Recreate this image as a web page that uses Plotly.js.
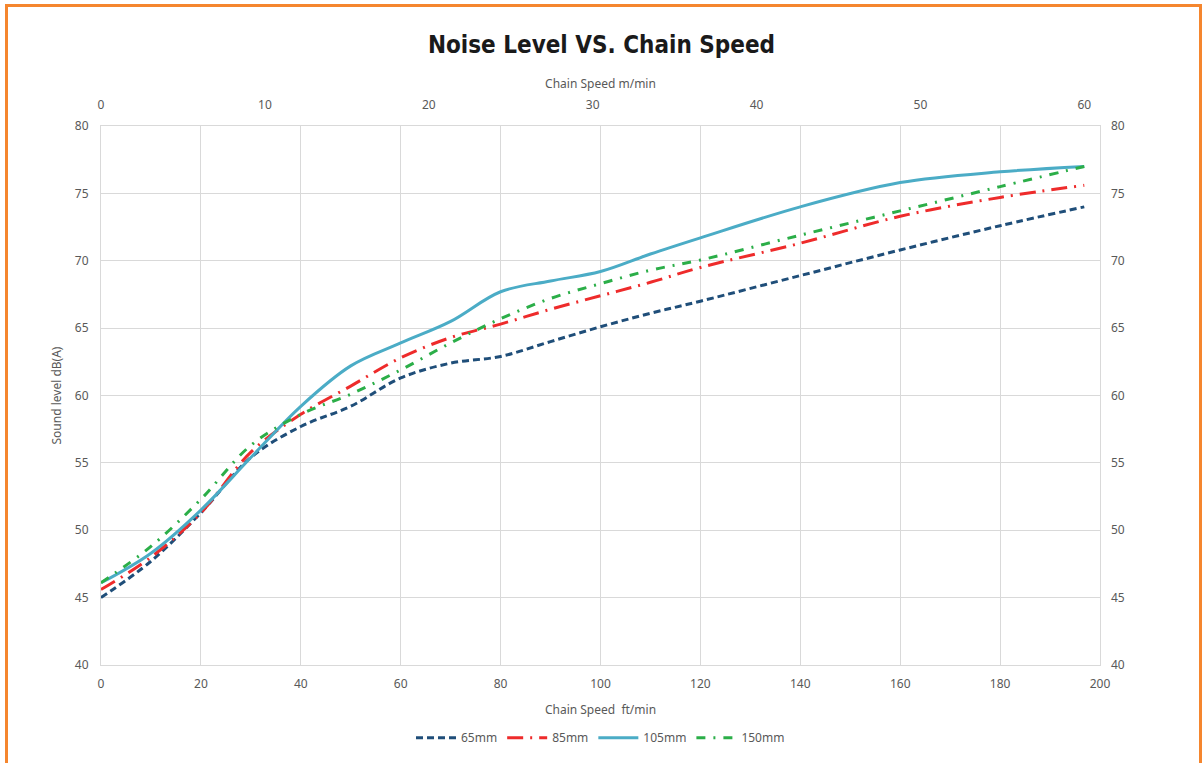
<!DOCTYPE html>
<html>
<head>
<meta charset="utf-8">
<script src="https://cdn.plot.ly/plotly-3.0.1.min.js"></script>
<style>
  html, body { margin: 0; padding: 0; background: #ffffff; overflow: hidden; }
  #chart { position: absolute; left: 0; top: 0; width: 1203px; height: 763px; }
  #frame { position: absolute; left: 5px; top: 4px; width: 1191px; height: 800px;
           border: 3px solid #F5862E; pointer-events: none; }
</style>
</head>
<body>
<div id="frame"></div>
<div id="chart"></div>
<script>
// Chain speed (ft/min) sample positions
const speedFt = [0, 10, 20, 30, 40, 50, 60, 70, 80, 90, 100, 110, 120, 140, 160, 180, 196.85];

// Sound level dB(A) per chain pitch
const level65  = [45.0, 47.7, 51.3, 55.4, 57.7, 59.2, 61.3, 62.4, 62.9, 64.0, 65.1, 66.1, 67.0, 68.9, 70.8, 72.6, 74.0];
const level85  = [45.6, 48.0, 51.3, 55.8, 58.6, 60.7, 62.8, 64.3, 65.3, 66.4, 67.4, 68.4, 69.5, 71.3, 73.3, 74.7, 75.6];
const level105 = [46.1, 48.3, 51.5, 55.4, 59.2, 62.2, 63.9, 65.5, 67.7, 68.5, 69.2, 70.5, 71.7, 74.0, 75.8, 76.6, 77.0];
const level150 = [46.1, 48.8, 52.3, 56.3, 58.6, 60.1, 61.9, 63.9, 65.7, 67.2, 68.3, 69.3, 70.05, 71.9, 73.7, 75.5, 77.0];

const seriesNames = ["65mm", "85mm", "105mm", "150mm"];
const seriesColors = ["#1F4E79", "#EE2B2B", "#4BACC6", "#2BAE48"];
const seriesDash = ["7px,4px", "16px,7px,2px,7px", "solid", "9px,8px,2px,8px"];

const topTicks = [0, 10, 20, 30, 40, 50, 60];
const FT_PER_M = 3.28084;

const levels = [level65, level85, level105, level150];
const traces = levels.map((lv, i) => ({
  x: speedFt, y: lv, name: seriesNames[i], type: "scatter", mode: "lines",
  line: { color: seriesColors[i], width: 3, dash: seriesDash[i], shape: "spline", smoothing: 1.0 },
  hoverinfo: "x+y+name"
}));

// invisible trace to carry the secondary (m/min, right dB) axes
traces.push({
  x: [topTicks[0], topTicks[topTicks.length - 1]], y: [40, 40], xaxis: "x2", yaxis: "y2",
  mode: "lines", line: { color: "rgba(0,0,0,0)", width: 0 }, showlegend: false, hoverinfo: "skip"
});

const tickFont = { family: "Noto Sans, Open Sans, sans-serif", size: 12, color: "#595959" };
const gridC = "#D9D9D9";

const layout = {
  width: 1203, height: 763,
  margin: { l: 101, r: 103, t: 126, b: 98, autoexpand: false },
  paper_bgcolor: "rgba(0,0,0,0)", plot_bgcolor: "#ffffff",
  title: {
    text: "<b>Noise Level VS. Chain Speed</b>",
    font: { family: "DejaVu Sans Condensed, Liberation Sans Narrow, sans-serif", size: 24, color: "#1a1a1a" },
    x: 0.5, xanchor: "center", y: 0.941, yanchor: "middle"
  },
  xaxis: {
    range: [0, 200], dtick: 20, tick0: 0, showgrid: true, gridcolor: gridC, gridwidth: 1,
    zeroline: false, showline: true, linecolor: gridC, linewidth: 1, mirror: true,
    ticks: "", tickfont: tickFont, ticklabelstandoff: 8, automargin: false,
    title: { text: "Chain Speed  ft/min", font: tickFont, standoff: 14 }
  },
  xaxis2: {
    range: [0, 200 / FT_PER_M], overlaying: "x", side: "top", anchor: "y",
    tickvals: topTicks, showgrid: false, zeroline: false, ticks: "", tickfont: tickFont,
    ticklabelstandoff: 14, automargin: false,
    title: { text: "Chain Speed m/min", font: tickFont, standoff: 4 }
  },
  yaxis: {
    range: [40, 80], dtick: 5, showgrid: true, gridcolor: gridC, gridwidth: 1, zeroline: false,
    showline: true, linecolor: gridC, mirror: true, ticks: "", tickfont: tickFont,
    ticklabelstandoff: 9, automargin: false,
    title: { text: "Sound level dB(A)", font: tickFont, standoff: 10 }
  },
  yaxis2: {
    range: [40, 80], dtick: 5, overlaying: "y", side: "right", anchor: "x",
    showgrid: false, zeroline: false, ticks: "", tickfont: tickFont, ticklabelstandoff: 10,
    automargin: false
  },
  legend: {
    orientation: "h", x: 0.5, xanchor: "center", y: -0.135, yanchor: "middle",
    font: { family: "Noto Sans, Open Sans, sans-serif", size: 12, color: "#595959" },
    itemwidth: 40, tracegroupgap: 0
  },
  showlegend: true
};

Plotly.newPlot("chart", traces, layout, { displayModeBar: false, staticPlot: true });
</script>
</body>
</html>
